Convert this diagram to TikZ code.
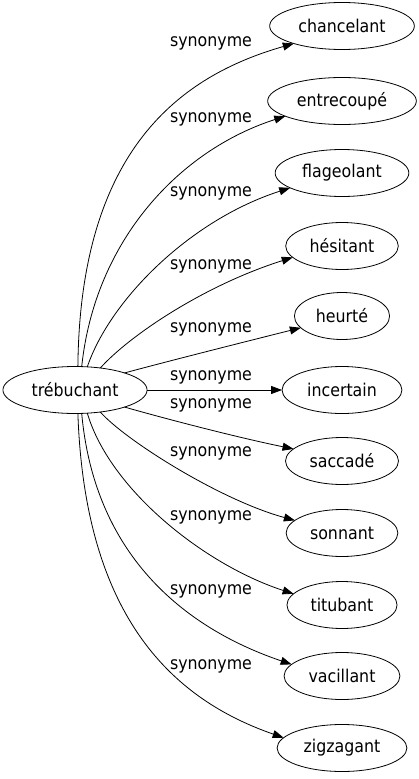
\documentclass[tikz,border=0pt]{standalone}
\usepackage{fontspec}
\setmainfont{DejaVu Sans}[FakeStretch=0.9]
\usetikzlibrary{shapes.geometric,arrows.meta}
\begin{document}
\begin{tikzpicture}[x=1pt,y=-1pt,
  word/.style={ellipse,draw,line width=0.8pt,minimum height=47pt,inner xsep=7.5pt,outer sep=0pt,font=\fontsize{17.6}{20}\selectfont},
  lbl/.style={anchor=mid,inner sep=0pt,font=\fontsize{17.6}{20}\selectfont},
  syn/.style={draw,line width=0.8pt,-{Triangle[length=11pt,width=8pt]}}]
\useasboundingbox (0,0) rectangle (419,779);
\node[word] (src) at (75,390) {trébuchant};
\node[word] (n1) at (342,26) {chancelant};
\node[word] (n2) at (342,101) {entrecoupé};
\node[word] (n3) at (342,173) {flageolant};
\node[word] (n4) at (342,246) {hésitant};
\node[word] (n5) at (342,316) {heurté};
\node[word] (n6) at (342,390) {incertain};
\node[word] (n7) at (342,461) {saccadé};
\node[word] (n8) at (342,533) {sonnant};
\node[word] (n9) at (342,605) {titubant};
\node[word] (n10) at (342,676) {vacillant};
\node[word] (n11) at (342,748) {zigzagant};
\node[lbl] (l1) at (211,44) {synonyme};
\node[lbl] (l2) at (211,120) {synonyme};
\node[lbl] (l3) at (211,194) {synonyme};
\node[lbl] (l4) at (211,267) {synonyme};
\node[lbl] (l5) at (211,330) {synonyme};
\node[lbl] (l6) at (211,378) {synonyme};
\node[lbl] (l7) at (211,406) {synonyme};
\node[lbl] (l8) at (211,454) {synonyme};
\node[lbl] (l9) at (211,518) {synonyme};
\node[lbl] (l10) at (211,592) {synonyme};
\node[lbl] (l11) at (211,667) {synonyme};
\path[syn] (src.83) .. controls (80,150) and (180,76) .. (n1.200);
\path[syn] (src.74) .. controls (95,240) and (180,150) .. (n2.195);
\path[syn] (src.62) .. controls (110,300) and (190,220) .. (n3.196);
\path[syn] (src.41) .. controls (130,335) and (205,285) .. (n4.193);
\path[syn] (src.19) .. controls (165,362) and (240,343) .. (n5.196);
\path[syn] (src.east) -- (n6.west);
\path[syn] (src.-19) .. controls (170,420) and (240,438) .. (n7.166);
\path[syn] (src.-41) .. controls (125,440) and (220,500) .. (n8.165);
\path[syn] (src.-62) .. controls (110,490) and (205,565) .. (n9.167);
\path[syn] (src.-74) .. controls (95,560) and (190,630) .. (n10.167);
\path[syn] (src.-83) .. controls (85,620) and (175,700) .. (n11.170);
\end{tikzpicture}
\end{document}
